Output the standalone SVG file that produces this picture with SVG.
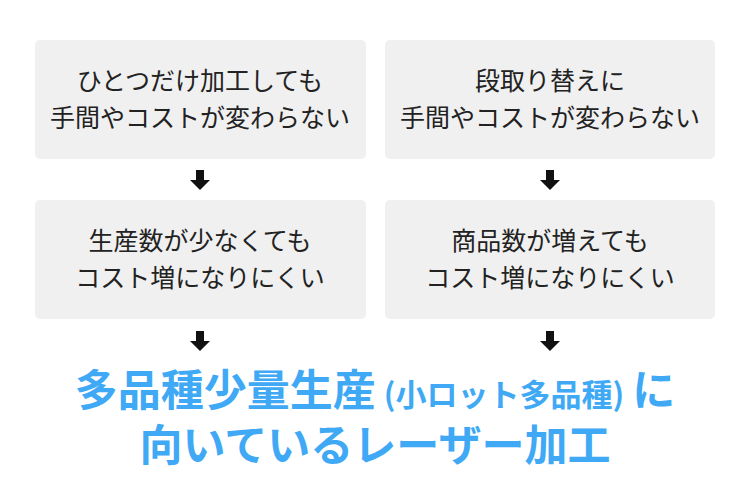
<svg xmlns="http://www.w3.org/2000/svg" width="750" height="500" viewBox="0 0 750 500">
<defs><style>
.box{fill:#f0f0f0}
.t{font-family:"Noto Sans CJK JP",sans-serif;font-size:25px;fill:#222;text-anchor:middle}
.b{font-family:"Noto Sans CJK JP",sans-serif;font-weight:bold;fill:#3fa9f5;text-anchor:middle}
.ar{fill:#111}
</style>
<g id="arrow"><rect x="-4" y="0" width="8" height="11"/><polygon points="-10,10 10,10 0,20"/></g>
</defs>
<rect width="750" height="500" fill="#fff"/>
<g id="n1"><rect class="box" x="35" y="40" width="331" height="119" rx="5"/><text class="t" x="200" y="90">ひとつだけ加工しても</text><text class="t" x="200" y="127">手間やコストが変わらない</text></g>
<g id="n2"><rect class="box" x="385" y="40" width="330" height="119" rx="5"/><text class="t" x="550" y="90">段取り替えに</text><text class="t" x="550" y="127">手間やコストが変わらない</text></g>
<g id="n3"><rect class="box" x="35" y="200" width="331" height="119" rx="5"/><text class="t" x="200" y="250">生産数が少なくても</text><text class="t" x="200" y="287">コスト増になりにくい</text></g>
<g id="n4"><rect class="box" x="385" y="200" width="330" height="119" rx="5"/><text class="t" x="550" y="250">商品数が増えても</text><text class="t" x="550" y="287">コスト増になりにくい</text></g>
<g id="connectors" class="ar">
<use href="#arrow" x="200" y="170"/><use href="#arrow" x="550" y="170"/>
<use href="#arrow" x="200" y="331"/><use href="#arrow" x="550" y="331"/>
</g>
<g id="result">
<text class="b" x="375" y="406" font-size="43"><tspan>多品種少量生産</tspan><tspan font-size="31" dx="8">(小ロット多品種)</tspan><tspan dx="8">に</tspan></text>
<text class="b" x="375" y="461" font-size="43">向いているレーザー加工</text>
</g>
</svg>
